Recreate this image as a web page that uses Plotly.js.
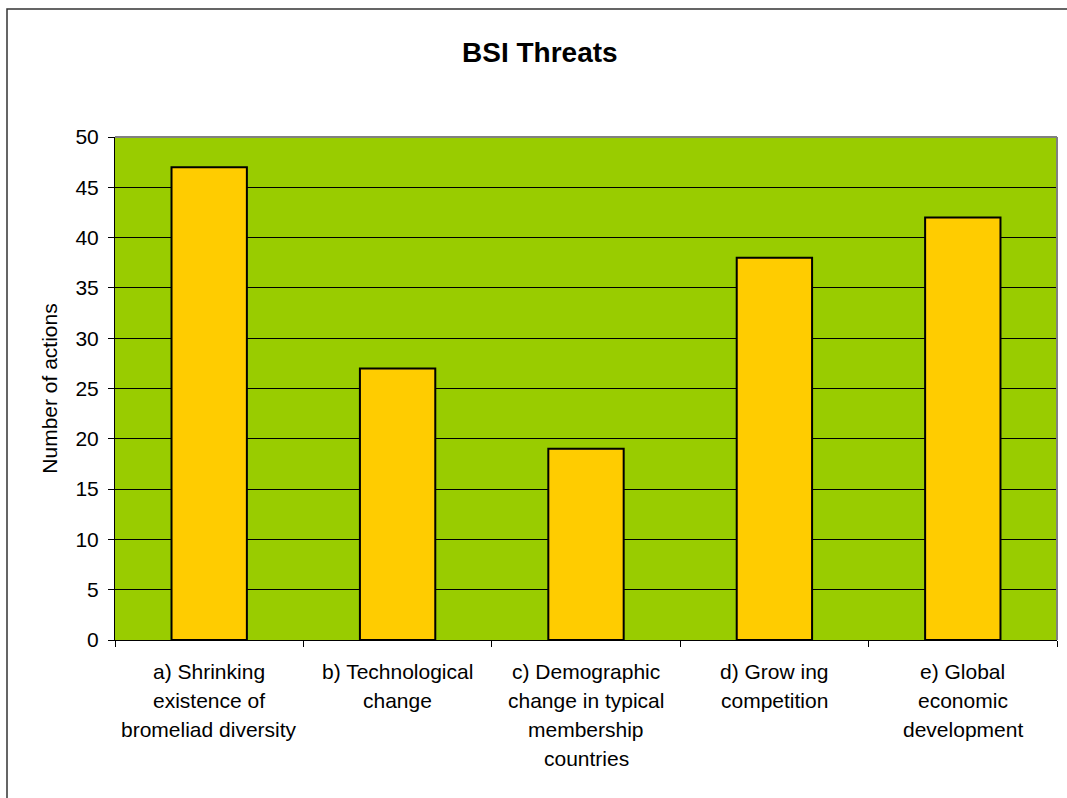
<!DOCTYPE html>
<html>
<head>
<meta charset="utf-8">
<script src="https://cdn.plot.ly/plotly-3.0.1.min.js"></script>
<style>
  html, body { margin: 0; padding: 0; background: #ffffff; }
  #chart { width: 1067px; height: 798px; }
</style>
</head>
<body>
<div id="chart"></div>
<script>
const categories = ["a", "b", "c", "d", "e"];
const labelLines = [
  ["a) Shrinking", "existence of", "bromeliad diversity"],
  ["b) Technological", "change"],
  ["c) Demographic", "change in typical", "membership", "countries"],
  ["d) Grow ing", "competition"],
  ["e) Global", "economic", "development"]
];
const values = [47, 27, 19, 38, 42];
const yTicks = [0, 5, 10, 15, 20, 25, 30, 35, 40, 45, 50];

const FONT = "Liberation Sans, Arial, sans-serif";

const annotations = [];
categories.forEach((c, i) => {
  labelLines[i].forEach((line, j) => {
    annotations.push({
      x: c, xref: "x", y: 0, yref: "paper",
      yanchor: "top", xanchor: "center",
      yshift: -18 - j * 29,
      text: line, showarrow: false,
      font: { family: FONT, size: 21, color: "#000000" }
    });
  });
});

const trace = {
  type: "bar",
  x: categories,
  y: values,
  marker: { color: "#ffcc00", line: { color: "#000000", width: 2 } },
  hoverinfo: "none"
};

const layout = {
  width: 1067, height: 798,
  margin: { l: 115, r: 10, t: 137, b: 158 },
  paper_bgcolor: "#ffffff",
  plot_bgcolor: "#99cc00",
  showlegend: false,
  bargap: 0.6,
  title: {
    text: "<b>BSI Threats</b>",
    font: { family: FONT, size: 28, color: "#000000" },
    xref: "paper", x: 0.451, xanchor: "center",
    yref: "container", y: 0.934, yanchor: "middle"
  },
  xaxis: {
    type: "category",
    showticklabels: false,
    tickson: "boundaries",
    ticks: "outside", ticklen: 6, tickcolor: "#000000", tickwidth: 1,
    showline: true, linecolor: "#000000", linewidth: 1,
    showgrid: false, zeroline: false,
    mirror: false
  },
  yaxis: {
    range: [0, 50],
    tickvals: yTicks,
    ticktext: yTicks.map(String),
    ticks: "outside", ticklen: 6, tickcolor: "#000000", tickwidth: 1,
    ticklabelstandoff: 5,
    tickfont: { family: FONT, size: 21, color: "#000000" },
    showline: true, linecolor: "#000000", linewidth: 1,
    showgrid: true, gridcolor: "#000000", gridwidth: 1,
    zeroline: false,
    title: { text: "Number of actions", font: { family: FONT, size: 21, color: "#000000" }, standoff: 12 }
  },
  annotations: annotations,
  shapes: [
    { type: "line", xref: "paper", yref: "paper", x0: 0, x1: 1, y0: 1, y1: 1,
      line: { color: "#808080", width: 2 } },
    { type: "line", xref: "paper", yref: "paper", x0: 1, x1: 1, y0: 0, y1: 1,
      line: { color: "#808080", width: 2 } },
    { type: "rect", xref: "paper", yref: "paper",
      x0: -108 / 942, x1: 1.2, y0: -0.5, y1: 1 + 128 / 503,
      line: { color: "#333333", width: 1.5 }, fillcolor: "rgba(0,0,0,0)", layer: "below" }
  ]
};

Plotly.newPlot("chart", [trace], layout, { displayModeBar: false, staticPlot: true });
</script>
</body>
</html>
